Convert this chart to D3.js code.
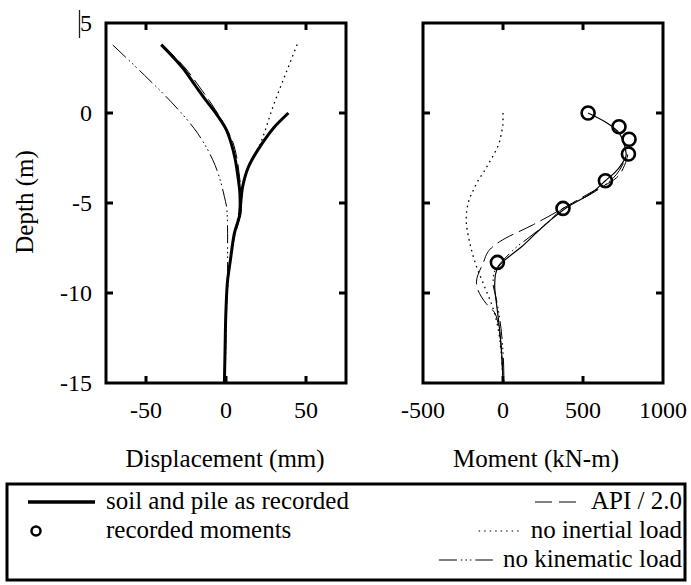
<!DOCTYPE html>
<html>
<head>
<meta charset="utf-8">
<script src="https://cdn.jsdelivr.net/npm/d3@7"></script>
<style>
  body { margin: 0; background: #fff; }
</style>
</head>
<body>
<div class="canvas"></div>
<script>
// depth ticks and axis ticks
const depthTicks = [5, 0, -5, -10, -15];
const dispTicks = [-50, 0, 50];
const momTicks = [-500, 0, 500, 1000];

// displacement panel (depth m, displacement mm)
const pileZ = [3.8, 2.5, 1.5, 0.7, 0, -0.9, -1.7, -2.5, -3.5, -4.5, -5.4, -6.7, -8.2, -9.3, -10.9, -13.2, -15];
const pileD = [-40.5, -27, -19, -12.5, -6.5, 0, 3.3, 5.6, 7.4, 8.7, 8.9, 5.2, 2.7, 1, 0, -0.6, -1];
const soilZ = [0, -0.8, -1.7, -3.0, -4.1, -5.0, -5.8];
const soilD = [39, 30, 22.5, 14, 10.4, 9.2, 8.4];
const apiDispZ = [3.8, 2.5, 1.5, 0.5, -0.5, -1.5, -2.5, -3.5, -4.5, -5.5, -7, -9, -11, -13, -15];
const apiDispD = [-40, -25.5, -17, -9, -2, 3.8, 6.8, 8.4, 9.4, 9, 5, 1.5, 0.2, -0.5, -1];
const noInertDispZ = [3.8, 2, 0, -1.1, -1.7, -3, -4, -5, -6, -8, -10, -12, -15];
const noInertDispD = [44.5, 36.5, 28, 24, 21.5, 14, 11, 9.2, 7, 3, 0.8, 0, -0.5];
const noKinDispZ = [3.78, 2.1, 0.63, -1.13, -2.6, -4.65, -5.4, -6.7, -8.8, -10, -12, -15];
const noKinDispD = [-70.8, -51, -34.4, -17.7, -8.3, -1, 0.6, 1, 1, 0.5, 0, -0.5];

// moment panel (depth m, moment kN-m)
const recMomZ = [0, -0.76, -1.46, -2.28, -3.76, -5.3, -8.3];
const recMomM = [532, 725, 788, 784, 640, 375, -35];
const pileMomZ = [0, -0.5, -1, -1.5, -1.9, -2.3, -2.8, -3.3, -3.76, -4.4, -5.3, -6.0, -6.6, -7.4, -8.0, -8.5, -9.0, -9.6, -10.5, -11.5, -12.5, -13.5, -15];
const pileMomM = [532, 640, 715, 750, 762, 770, 745, 700, 640, 560, 390, 290, 215, 120, 35, -25, -48, -52, -42, -28, -16, -7, 0];
const apiMomZ = [-2.3, -2.9, -3.6, -4.55, -5.3, -6.2, -7.15, -7.5, -8.4, -9.4, -10.6, -11.1, -12, -13.5, -15];
const apiMomM = [780, 760, 709, 521, 375, 190, -21, -73, -127, -166, -104, -52, -25, -8, 0];
const noInertMomZ = [0, -0.54, -1.13, -1.68, -2.18, -2.7, -3.26, -3.76, -4.32, -4.83, -5.9, -7.2, -8.5, -9.65, -10.8, -12, -13.5, -15];
const noInertMomM = [0, 0, -10, -25, -50, -83, -119, -156, -187, -212, -230, -208, -167, -115, -64, -30, -10, 0];
const noKinMomZ = [-2.8, -3.6, -4.55, -5.3, -6.0, -6.6, -7.0, -7.4, -8.0, -8.5, -9.0, -9.5, -10, -11, -12, -13, -14, -15];
const noKinMomM = [752, 690, 540, 375, 290, 208, 150, 91, 20, -30, -60, -62, -50, -28, -12, -2, 4, 6];

// legend entries
const legendLeft = ['soil and pile as recorded', 'recorded moments'];
const legendRight = ['API / 2.0', 'no inertial load', 'no kinematic load'];

// dimensions
const dims = { width: 691, height: 585 };
const plotTop = 23, plotBottom = 383;
const left = { x0: 106, x1: 346 };
const right = { x0: 423, x1: 663 };
const font = '"Liberation Serif", "Times New Roman", Times, "DejaVu Serif", serif';
const fs = 24;      // tick labels
const fsTitle = 25; // axis titles
const fsLeg = 25;   // legend

const dashApi = '18,6';
const dashDot = '1.6,4';
const dashDotDot = '18,4,1.6,3,1.6,3,1.6,4';

const svg = d3.select('.canvas')
  .append('svg')
    .attr('width', dims.width)
    .attr('height', dims.height)
    .attr('font-family', font)
    .style('font-family', font);

// scales
const y = d3.scaleLinear().domain([-15, 5]).range([plotBottom, plotTop]);
const xDisp = d3.scaleLinear().domain([-75, 75]).range([left.x0, left.x1]);
const xMom = d3.scaleLinear().domain([-500, 1000]).range([right.x0, right.x1]);

const zip = (zs, vs) => zs.map((z, i) => ({ z: z, v: vs[i] }));

// draw one panel frame with inner ticks
const drawFrame = (x, x0, x1, xTickMarks, xLabels, yLabels) => {
  const g = svg.append('g');

  // tick marks pointing inward
  const tl = 7;
  xTickMarks.forEach(t => {
    g.append('line').attr('x1', x(t)).attr('x2', x(t))
      .attr('y1', plotBottom).attr('y2', plotBottom - tl);
    g.append('line').attr('x1', x(t)).attr('x2', x(t))
      .attr('y1', plotTop).attr('y2', plotTop + tl);
  });
  [0, -5, -10].forEach(t => {
    g.append('line').attr('x1', x0).attr('x2', x0 + tl)
      .attr('y1', y(t)).attr('y2', y(t));
    g.append('line').attr('x1', x1).attr('x2', x1 - tl)
      .attr('y1', y(t)).attr('y2', y(t));
  });
  g.selectAll('line').attr('stroke', '#000').attr('stroke-width', 3);

  g.append('rect')
    .attr('x', x0).attr('y', plotTop)
    .attr('width', x1 - x0).attr('height', plotBottom - plotTop)
    .attr('fill', 'none').attr('stroke', '#000').attr('stroke-width', 3);

  g.selectAll('.xl').data(xLabels).enter()
    .append('text')
      .attr('x', d => x(d)).attr('y', 418)
      .attr('text-anchor', 'middle')
      .attr('font-size', fs)
      .text(d => d);

  if (yLabels) {
    g.selectAll('.yl').data(yLabels).enter()
      .append('text')
        .attr('x', x0 - 14).attr('y', d => y(d) + 8)
        .attr('text-anchor', 'end')
        .attr('font-size', fs)
        .text(d => d);
  }
};

drawFrame(xDisp, left.x0, left.x1, dispTicks, dispTicks, depthTicks);
drawFrame(xMom, right.x0, right.x1, [0, 500], momTicks, null);

// little bar by the top label
svg.append('line')
  .attr('x1', 79.5).attr('x2', 79.5).attr('y1', 10).attr('y2', 38)
  .attr('stroke', '#222').attr('stroke-width', 1.3);

// line generators
const lineDisp = d3.line().x(d => xDisp(d.v)).y(d => y(d.z)).curve(d3.curveMonotoneY);
const lineMom = d3.line().x(d => xMom(d.v)).y(d => y(d.z)).curve(d3.curveMonotoneY);

const series = (gen, data, width, dash) => {
  svg.append('path')
    .attr('d', gen(data))
    .attr('fill', 'none')
    .attr('stroke', '#000')
    .attr('stroke-width', width)
    .attr('stroke-dasharray', dash || null);
};

// displacement curves
series(lineDisp, zip(noKinDispZ, noKinDispD), 1, dashDotDot);
series(lineDisp, zip(noInertDispZ, noInertDispD), 1.3, dashDot);
series(lineDisp, zip(apiDispZ, apiDispD), 1, dashApi);
series(lineDisp, zip(pileZ, pileD), 3, null);
series(lineDisp, zip(soilZ, soilD), 3, null);

// moment curves
series(lineMom, zip(noInertMomZ, noInertMomM), 1.3, dashDot);
series(lineMom, zip(noKinMomZ, noKinMomM), 1, dashDotDot);
series(lineMom, zip(apiMomZ, apiMomM), 1, dashApi);
series(lineMom, zip(pileMomZ, pileMomM), 1.2, null);

// recorded moments
svg.selectAll('.rec').data(zip(recMomZ, recMomM)).enter()
  .append('circle')
    .attr('cx', d => xMom(d.v)).attr('cy', d => y(d.z))
    .attr('r', 6.5)
    .attr('fill', 'none').attr('stroke', '#000').attr('stroke-width', 2.6);

// axis titles
svg.append('text')
  .attr('x', 225).attr('y', 467)
  .attr('text-anchor', 'middle').attr('font-size', fsTitle)
  .text('Displacement (mm)');
svg.append('text')
  .attr('x', 536).attr('y', 467)
  .attr('text-anchor', 'middle').attr('font-size', fsTitle)
  .text('Moment (kN-m)');
svg.append('text')
  .attr('transform', `translate(33, 202) rotate(-90)`)
  .attr('text-anchor', 'middle').attr('font-size', fsTitle)
  .text('Depth (m)');

// legend
const lg = svg.append('g');
lg.append('rect')
  .attr('x', 7).attr('y', 484).attr('width', 678).attr('height', 96)
  .attr('fill', 'none').attr('stroke', '#000').attr('stroke-width', 3);

const rowY = [502, 531, 560];

lg.append('line')
  .attr('x1', 28).attr('x2', 95).attr('y1', rowY[0]).attr('y2', rowY[0])
  .attr('stroke', '#000').attr('stroke-width', 3.5);
lg.append('circle')
  .attr('cx', 36).attr('cy', rowY[1]).attr('r', 4.5)
  .attr('fill', 'none').attr('stroke', '#000').attr('stroke-width', 2.5);

lg.selectAll('.ll').data(legendLeft).enter()
  .append('text')
    .attr('x', 106).attr('y', (d, i) => rowY[i] + 7)
    .attr('font-size', fsLeg)
    .text(d => d);

const sampleLen = [46, 42, 54];
const sampleDash = ['17,7', '1.5,4', '18,4,1.5,3,1.5,3,1.5,4'];

legendRight.forEach((t, i) => {
  const txt = lg.append('text')
    .attr('x', 682).attr('y', rowY[i] + 7)
    .attr('text-anchor', 'end')
    .attr('font-size', fsLeg)
    .text(t);
  const start = 682 - txt.node().getComputedTextLength();
  lg.append('line')
    .attr('x1', start - 10 - sampleLen[i]).attr('x2', start - 10)
    .attr('y1', rowY[i]).attr('y2', rowY[i])
    .attr('stroke', '#000').attr('stroke-width', 1.2)
    .attr('stroke-dasharray', sampleDash[i]);
});
</script>
</body>
</html>
